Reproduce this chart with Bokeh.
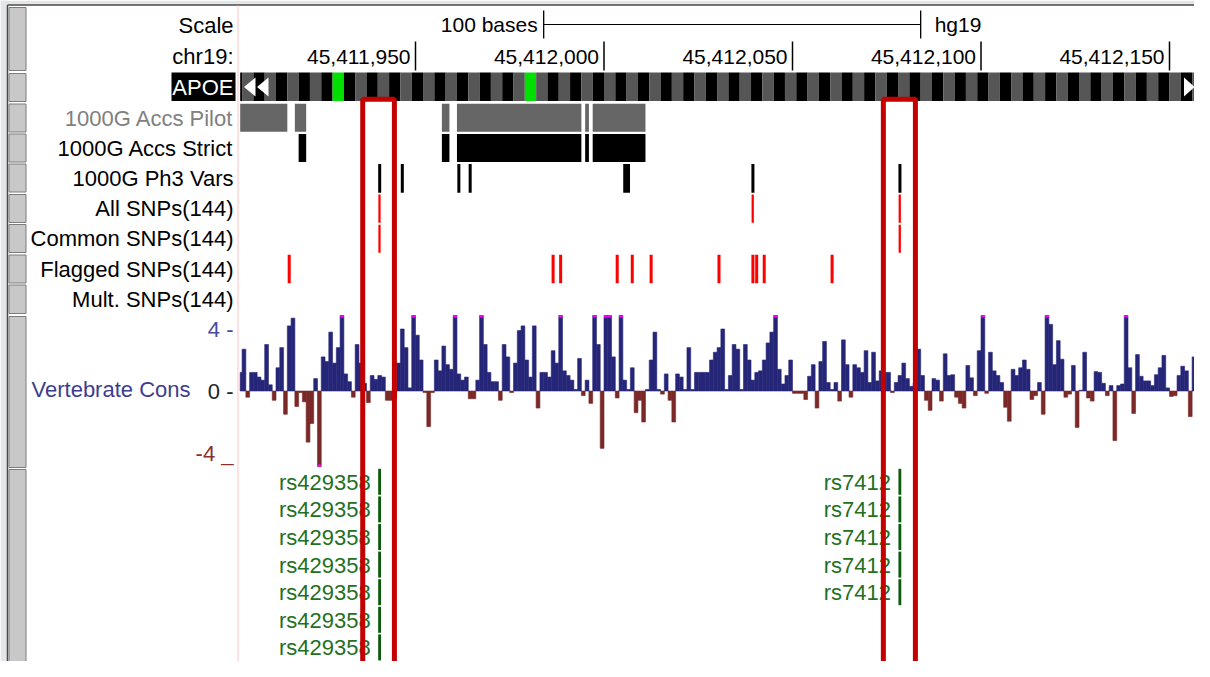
import numpy as np
from bokeh.plotting import figure
from bokeh.models import Range1d
from bokeh.core.properties import value
from bokeh.embed import file_html
from bokeh.resources import INLINE

# ------------------------------------------------------------------ data
assembly = "hg19"
chrom_label = "chr19:"
view_start = 45411903            # first base (BED start) of the window
ruler_ticks = [45411950, 45412000, 45412050, 45412100, 45412150]
scale_bar_start = 45411984
scale_bar_len = 100

gene_name = "APOE"
codon_frame_origin = 45411916
green_codon_starts = [45411928, 45411979]

pilot_starts = [45411900, 45411918, 45411957, 45411961, 45411995, 45411997]
pilot_ends = [45411916, 45411921, 45411959, 45411994, 45411996, 45412011]
strict_starts = [45411919, 45411957, 45411961, 45411995, 45411997]
strict_ends = [45411921, 45411959, 45411994, 45411996, 45412011]
ph3_starts = [45411940, 45411946, 45411961, 45411964, 45412005, 45412039, 45412078]
ph3_ends = [45411941, 45411947, 45411962, 45411965, 45412007, 45412040, 45412079]
all_snp_starts = [45411940, 45412039, 45412078]
common_snp_starts = [45411940, 45412078]
flagged_snp_starts = [45411916, 45411986, 45411988, 45412003, 45412007, 45412012,
                      45412030, 45412039, 45412040, 45412042, 45412060]

track_labels = ["1000G Accs Pilot", "1000G Accs Strict", "1000G Ph3 Vars",
                "All SNPs(144)", "Common SNPs(144)", "Flagged SNPs(144)", "Mult. SNPs(144)"]

# Vertebrate conservation (phyloP), one value per base from view_start
cons_values = [
    1.2, 2.7, -0.4, 1.2, 1.2, 0.9, 0.7, 3.0, 0.4, -0.6,
    1.5, 2.8, -1.5, 4.2, 4.7, -1.0, -0.1, -0.7, -3.3, -2.1,
    0.8, -5.5, 2.2, 1.9, 3.8, 1.8, 2.8, 5.2, 1.1, 0.6,
    -0.4, 3.0, 1.8, 0.5, -0.75, 1.0, 0.75, 1.0, 0.9, -0.6,
    -0.6, -0.5, 1.8, 4.0, 2.8, 0.2, 5.2, 3.6, 2.0, -0.1,
    -2.3, -0.1, 2.0, 1.3, 2.9, 1.7, 1.4, 5.2, 1.1, 0.7,
    0.9, -0.5, -0.5, 0.7, 5.2, 3.0, 1.2, 0.6, 0.6, -0.6,
    3.0, 2.2, -0.1, 1.8, 3.9, 4.2, 2.0, 0.9, 4.2, -1.1,
    1.2, 1.2, 0.9, 2.6, 1.8, 5.2, 1.3, 1.0, 0.7, 0.1,
    2.1, -0.3, 0.7, -0.8, 5.2, 3.0, -3.7, 5.2, 5.2, 2.2,
    -0.45, 5.2, 0.7, 0.1, 1.5, -1.4, -0.6, -2.0, 0.1, 2.0,
    3.8, 0.1, -0.2, 1.1, -0.6, -2.0, 1.1, 0.9, 0.1, 2.8,
    0.1, 1.2, 1.2, 1.2, 1.2, 2.0, 2.5, 2.8, 4.0, 0.1,
    1.0, 3.0, 2.7, 0.1, 3.0, 2.0, 0.7, 1.2, 1.3, 2.0,
    3.1, 3.8, 5.2, 1.4, 0.45, 1.0, 2.0, -0.15, -0.15, -0.15,
    -0.55, 0.95, 1.7, -1.1, 1.9, 3.2, 0.55, 0.1, 0.55, -0.65,
    3.3, 1.7, -0.4, 1.7, 1.5, 1.2, 2.6, 0.55, 2.5, 0.65,
    1.3, 1.2, 1.2, -0.1, 0.55, 1.0, 1.8, 0.8, 0.3, 0.5,
    2.7, 1.0, -0.6, -1.25, 0.8, 0.7, -0.65, 2.4, 1.0, 1.05,
    -0.4, -0.8, -1.1, 1.65, 0.85, -0.3, 2.6, 5.2, -0.15, 2.5,
    1.3, 1.0, 0.55, -1.05, -1.95, 1.4, 1.0, 1.5, 2.0, 1.4,
    -0.55, -0.3, 0.55, -1.5, 5.2, 4.3, 1.7, 3.25, 2.05, -0.4,
    -0.2, 1.65, -2.35, 0.05, 2.5, -0.45, -0.65, 1.25, 1.2, 0.5,
    -0.3, 0.35, -3.2, 0.35, 0.45, 5.2, 1.5, -1.45, 2.35, 0.95,
    0.65, 0.65, 0.35, 1.05, 1.5, 2.3, 0.2, -0.35, -0.3, 1.0,
    1.6, 1.3, -1.65, 2.2, 4.5, 2.5, -0.5, 1.1,
]
cons_view_max = 4.87
cons_view_min = -4.87
cons_ticks = [4, 0, -4]
cons_tick_labels = ["4 -", "0 -", "-4 _"]

snp_names = ["rs429358", "rs7412"]
snp_starts = [45411940, 45412078]
snp_copies = [7, 5]

highlight_starts = [45411936.0, 45412074.1]
highlight_ends = [45411944.4, 45412082.6]

# ------------------------------------------------------------------ layout
W, H = 1194, 661
PX0, PX1 = 0, W                 # reference pixel window covered
PY0, PY1 = 0, H
BP_PX = 3.77                    # pixels per base
TICK_PX = 415                   # pixel of ruler_ticks[0]
g0 = ruler_ticks[0] + (PX0 - TICK_PX) / BP_PX
g1 = ruler_ticks[0] + (PX1 - TICK_PX) / BP_PX
ZERO_Y, UNIT_PX = 390.5, 15.5
c_lo = (ZERO_Y - PY1) / UNIT_PX
c_hi = (ZERO_Y - PY0) / UNIT_PX
track_left = view_start + 0.5

FONT = value("Liberation Sans")
FS = "22px"
POS_COL, NEG_COL = "#262678", "#7a2828"

p = figure(width=W, height=H, x_range=Range1d(g0, g1), y_range=Range1d(PY1, PY0),
           output_backend="svg", toolbar_location=None, min_border=0, title=None,
           background_fill_color="white", border_fill_color="white",
           outline_line_color=None)
p.axis.visible = False
p.grid.visible = False
p.extra_x_ranges = {"px": Range1d(PX0, PX1)}
p.extra_y_ranges = {"cons": Range1d(c_lo, c_hi)}

# window frame
p.quad(left=[0, 0], right=[7, W], top=[0, 0], bottom=[H, 4.2], x_range_name="px",
       fill_color="#e3e5e8", line_color=None)
p.segment(x0=[7, 7], x1=[7, W], y0=[4.5, 4.5], y1=[H, 4.5], x_range_name="px",
          line_color="#4a4a4a", line_width=1.5)

# side buttons
btn_tops = [7, 73, 103.5, 133.5, 163.5, 194, 224, 254.5, 284.5, 316, 469]
btn_bots = [70, 101, 131.5, 161.5, 191.5, 222, 252, 282.5, 313, 467, 700]
p.quad(left=8.5, right=25.5, top=btn_tops, bottom=btn_bots, x_range_name="px",
       fill_color="#c8c8c8", line_color="#7c7c7c", line_width=1)

# pink divider
p.segment(x0=[237.5], x1=[237.5], y0=[5], y1=[700], x_range_name="px",
          line_color="#ffc2c2", line_width=1)

# ---- scale row
p.segment(x0=[scale_bar_start], x1=[scale_bar_start + scale_bar_len], y0=[24], y1=[24],
          line_color="black", line_width=1)
p.segment(x0=[scale_bar_start, scale_bar_start + scale_bar_len],
          x1=[scale_bar_start, scale_bar_start + scale_bar_len],
          y0=[10, 10], y1=[38, 38], line_color="black", line_width=1.3)
p.text(x=[scale_bar_start], y=[24], text=[f"{scale_bar_len} bases"], x_offset=-6,
       text_font=FONT, text_font_size="21px", text_align="right", text_baseline="middle",
       text_color="black")
p.text(x=[scale_bar_start + scale_bar_len], y=[24], text=[assembly], x_offset=14,
       text_font=FONT, text_font_size="21px", text_align="left", text_baseline="middle",
       text_color="black")

# ---- ruler
p.segment(x0=ruler_ticks, x1=ruler_ticks, y0=[41] * len(ruler_ticks),
          y1=[70] * len(ruler_ticks), line_color="black", line_width=1.5)
p.text(x=ruler_ticks, y=[56] * len(ruler_ticks), text=[f"{t:,}" for t in ruler_ticks],
       x_offset=-5, text_font=FONT, text_font_size="21px", text_align="right",
       text_baseline="middle", text_color="black")

# ---- gene (codon coloured)
k_lo = int(np.floor((track_left - codon_frame_origin) / 3))
k_hi = int(np.ceil((g1 - codon_frame_origin) / 3))
ks = np.arange(k_lo, k_hi + 1)
c_starts = codon_frame_origin + 3 * ks
c_left = np.maximum(c_starts, track_left)
c_right = c_starts + 3
c_cols = ["#00e000" if s in green_codon_starts else ("#565656" if k % 2 == 0 else "black")
          for s, k in zip(c_starts, ks)]
p.quad(left=c_left, right=c_right, top=72, bottom=100.5, fill_color=c_cols,
       line_color=None)
p.patches(xs=[[243.5, 255, 255], [256.5, 268, 268], [1183.5, 1183.5, 1194]],
          ys=[[86.5, 77, 96], [86.5, 77, 96], [77, 96, 86.5]], x_range_name="px",
          fill_color="white", line_color=None)
p.quad(left=[171], right=[235], top=[72], bottom=[100.5], x_range_name="px",
       fill_color="black", line_color=None)
p.text(x=[233], y=[86.5], text=[gene_name], x_range_name="px", text_font=FONT,
       text_font_size=FS, text_align="right", text_baseline="middle", text_color="white")

# ---- interval tracks
p.quad(left=np.maximum(pilot_starts, track_left), right=pilot_ends, top=103.3,
       bottom=131.3, fill_color="#666666", line_color=None)
p.quad(left=np.maximum(strict_starts, track_left), right=strict_ends, top=133.5,
       bottom=161.6, fill_color="black", line_color=None)
p.quad(left=np.array(ph3_starts) + 0.1, right=np.array(ph3_ends) - 0.1, top=163.5,
       bottom=192.2, fill_color="black", line_color=None)
p.quad(left=np.array(all_snp_starts) + 0.15, right=np.array(all_snp_starts) + 0.75,
       top=194, bottom=222.3, fill_color="#ff0000", line_color=None)
p.quad(left=np.array(common_snp_starts) + 0.15, right=np.array(common_snp_starts) + 0.75,
       top=224.3, bottom=252.3, fill_color="#ff0000", line_color=None)
p.quad(left=np.array(flagged_snp_starts) + 0.1, right=np.array(flagged_snp_starts) + 0.9,
       top=254.3, bottom=282.7, fill_color="#ff0000", line_color=None)

# labels column
p.text(x=[233, 233], y=[25, 56], text=["Scale", chrom_label], x_range_name="px",
       text_font=FONT, text_font_size=FS, text_align="right", text_baseline="middle",
       text_color="black")
label_y = [117.5, 147.5, 177.8, 208.2, 238.4, 268.6, 298.8]
label_col = ["#808080"] + ["black"] * 6
p.text(x=[233] * len(track_labels), y=label_y, text=track_labels, x_range_name="px",
       text_font=FONT, text_font_size=FS, text_align="right", text_baseline="middle",
       text_color=label_col)

# ---- conservation wiggle
cv = np.array(cons_values, dtype=float)
cs = view_start + np.arange(len(cv))
ctop = np.clip(cv, cons_view_min, cons_view_max)
pos = cv >= 0
neg = ~pos
p.quad(left=np.maximum(cs[pos], track_left), right=cs[pos] + 1, bottom=0, top=ctop[pos],
       y_range_name="cons", fill_color=POS_COL, line_color=POS_COL, line_width=0.6)
p.quad(left=np.maximum(cs[neg], track_left), right=cs[neg] + 1, bottom=ctop[neg], top=0,
       y_range_name="cons", fill_color=NEG_COL, line_color=NEG_COL, line_width=0.6)
hi = cv > cons_view_max
lo = cv < cons_view_min
tip = 2.0 / UNIT_PX
p.quad(left=cs[hi], right=cs[hi] + 1, bottom=cons_view_max - tip, top=cons_view_max,
       y_range_name="cons", fill_color="#ff00ff", line_color=None)
p.quad(left=cs[lo], right=cs[lo] + 1, bottom=cons_view_min, top=cons_view_min + tip,
       y_range_name="cons", fill_color="#ff00ff", line_color=None)
p.text(x=[233] * 3, y=cons_ticks, text=cons_tick_labels, x_range_name="px",
       y_range_name="cons", text_font=FONT, text_font_size=FS, text_align="right",
       text_baseline="middle", text_color=["#4a4a9e", "#222222", "#8a3030"])
p.text(x=[190], y=[389], text=["Vertebrate Cons"], x_range_name="px", text_font=FONT,
       text_font_size=FS, text_align="right", text_baseline="middle", text_color="#3d3d8f")

# ---- stacked SNP items (rows pitched to fit the window)
ROW0, ROWH, ROWBAR = 468.3, 27.6, 26.0
bx0, bx1, by0, by1, tx, ty, tt = [], [], [], [], [], [], []
for name, s, n in zip(snp_names, snp_starts, snp_copies):
    for k in range(n):
        top = ROW0 + ROWH * k
        bx0.append(s + 0.1)
        bx1.append(s + 0.85)
        by0.append(top)
        by1.append(top + ROWBAR)
        tx.append(s - 1.9)
        ty.append(top + ROWBAR / 2 + 0.5)
        tt.append(name)
p.quad(left=bx0, right=bx1, top=by0, bottom=by1, fill_color="#0a5c0a", line_color=None)
p.text(x=tx, y=ty, text=tt, text_font=FONT, text_font_size="22px", text_align="right",
       text_baseline="middle", text_color="#237023")

# ---- highlight boxes
p.quad(left=highlight_starts, right=highlight_ends, top=98.8, bottom=720,
       fill_color=None, line_color="#c40000", line_width=5)

open("out.html", "w").write(file_html(p, INLINE))
